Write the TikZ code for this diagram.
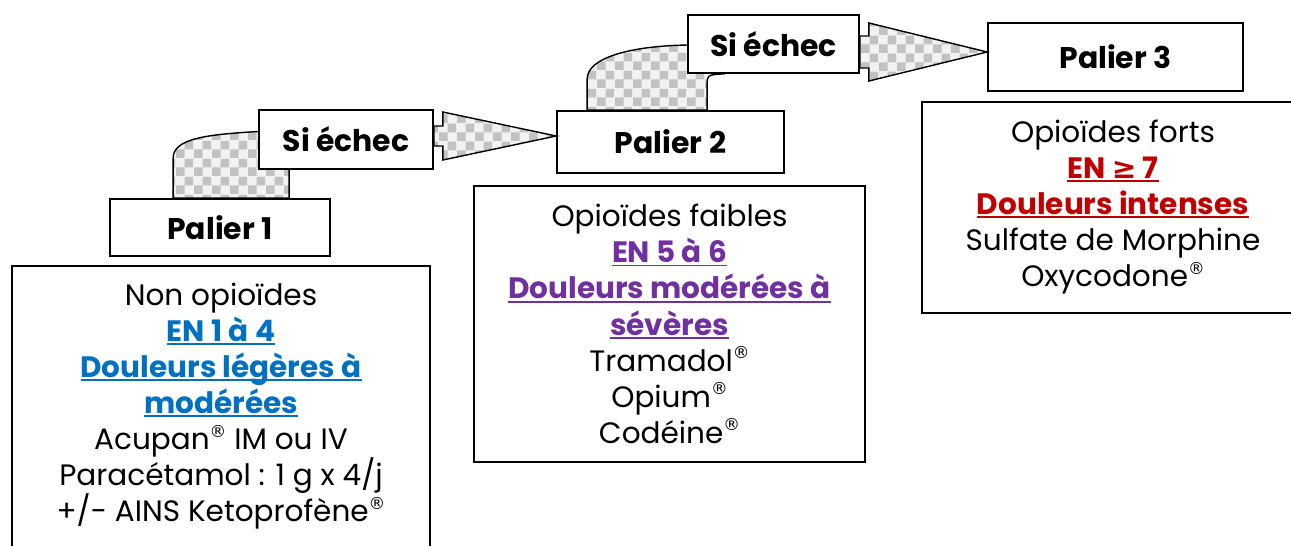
\documentclass[tikz,border=0pt]{standalone}
\usepackage{fontspec}
\setmainfont{Poppins}
\newfontfamily\symfont{DejaVu Sans}
\usetikzlibrary{calc, patterns, backgrounds}

\pgfdeclarepatternformonly{checks}{\pgfpointorigin}{\pgfqpoint{10pt}{10pt}}{\pgfqpoint{10pt}{10pt}}{%
  \pgfpathrectangle{\pgfpointorigin}{\pgfqpoint{5pt}{5pt}}%
  \pgfpathrectangle{\pgfqpoint{5pt}{5pt}}{\pgfqpoint{5pt}{5pt}}%
  \pgfusepath{fill}}

\definecolor{enblue}{HTML}{0070C0}
\definecolor{enpurple}{HTML}{7030A0}
\definecolor{enred}{HTML}{C00000}

\newcommand{\reg}{\raisebox{0.75ex}{\fontsize{9.5}{9.5}\selectfont\symfont ®}}
\newcommand{\enline}[2]{\textcolor{#1}{\bfseries\setbox0\hbox{#2}%
  \rlap{\rule[-2pt]{\wd0}{1.1pt}}\box0}}

% block arrow: from node, tip, shaft half height, head half height
\newcommand{\blockarrow}[4]{%
  \coordinate (tip) at #2;
  \draw[checked] ($(#1.east |- tip)+(0,-#3)$) -- ++(9,0) -- ++(0,{#3-#4}) -- (tip)
    -- ($(#1.east |- tip)+(9,#4)$) -- ++(0,{#3-#4}) -- ++(-9,0) -- cycle;}

\tikzset{
  stage/.style={draw, line width=1pt, fill=white, align=center,
    font=\fontsize{17}{20}\selectfont\bfseries},
  infobox/.style={draw, line width=1pt, fill=white, anchor=north, align=center,
    font=\fontsize{16.8}{20.5}\selectfont},
  checked/.style={draw, line width=0.8pt, preaction={fill=black!5},
    pattern=checks, pattern color=black!24},
}

\begin{document}
\begin{tikzpicture}[x=0.02cm, y=-0.02cm]
  \useasboundingbox (0,0) rectangle (1291,545);

  \node[stage, minimum width=4.4cm, minimum height=1.14cm] (pal1) at (220,227.5) {Palier 1};
  \node[stage, minimum width=3.48cm, minimum height=1.18cm] (si1) at (346,139.5) {Si échec};
  \node[stage, minimum width=4.54cm, minimum height=1.24cm] (pal2) at (670.5,142) {Palier 2};
  \node[stage, minimum width=3.42cm, minimum height=1.16cm] (si2) at (773.5,44) {Si échec};
  \node[stage, minimum width=5.1cm, minimum height=1.36cm] (pal3) at (1115.5,57) {Palier 3};

  \begin{scope}[on background layer]
    % bend from Palier 1 up to the first Si échec
    \draw[checked] ($(pal1.north west)+(64,0)$) -- +(0,-40)
      .. controls +(0,-20) and ($(si1.west)+(-50,-5)$) .. ($(si1.west)+(0,-8)$)
      -- ($(si1.south west)+(31,-4)$) -- ($(pal1.north west)+(180,0)$) -- cycle;
    % bend from Palier 2 up to the second Si échec
    \draw[checked] ($(pal2.north west)+(31,0)$) -- +(0,-31)
      .. controls +(0,-22) and ($(si2.west)+(-55,2)$) .. ($(si2.west)+(0,1)$)
      -- ($(si2.south west)+(36,0)$)
      .. controls ($(si2.south west)+(20,1)$) .. ($(si2.south west)+(20,13)$)
      -- ($(pal2.north west)+(151,0)$) -- cycle;
  \end{scope}

  \blockarrow{si1}{($(pal2.west)+(0,-6)$)}{10}{24}
  \blockarrow{si2}{($(pal3.west)+(0,-5)$)}{16}{29}

  \node[infobox, minimum width=8.36cm, minimum height=5.62cm] (box1) at (221,265) {%
    Non opioïdes\\
    \enline{enblue}{EN 1 à 4}\\
    \enline{enblue}{Douleurs légères à}\\
    \enline{enblue}{modérées}\\
    Acupan\reg{} IM ou IV\\
    Paracétamol : 1 g x 4/j\\
    +/- AINS Ketoprofène\reg};
  \node[infobox, minimum width=7.82cm, minimum height=5.52cm] (box2) at (669.5,185) {%
    Opioïdes faibles\\
    \enline{enpurple}{EN 5 à 6}\\
    \enline{enpurple}{Douleurs modérées à}\\
    \enline{enpurple}{sévères}\\
    Tramadol\reg\\
    Opium\reg\\
    Codéine\reg};
  \node[infobox, minimum width=7.64cm, minimum height=4.22cm] (box3) at (1113,101) {%
    Opioïdes forts\\
    \enline{enred}{EN {\symfont ≥} 7}\\
    \enline{enred}{Douleurs intenses}\\
    Sulfate de Morphine\\
    Oxycodone\reg};
\end{tikzpicture}
\end{document}
